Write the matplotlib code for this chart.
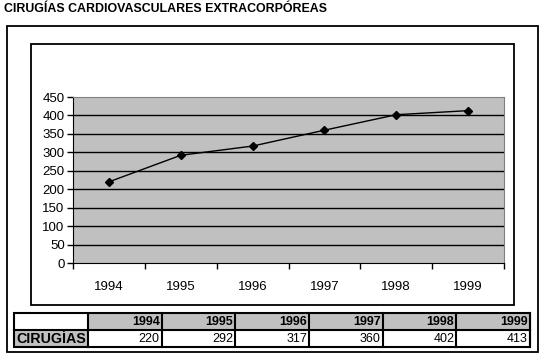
import numpy as np
import matplotlib.pyplot as plt
from matplotlib.patches import Rectangle

plt.rcParams['font.family'] = ['Liberation Sans', 'DejaVu Sans']

title = 'CIRUGÍAS CARDIOVASCULARES EXTRACORPÓREAS'
years = ['1994', '1995', '1996', '1997', '1998', '1999']
cirugias = [220, 292, 317, 360, 402, 413]
row_label = 'CIRUGÍAS'
yticks = [0, 50, 100, 150, 200, 250, 300, 350, 400, 450]

W, H = 551, 363
fig = plt.figure(figsize=(W / 100, H / 100), dpi=100)

# overlay in pixel coords for boxes and the table
over = fig.add_axes([0, 0, 1, 1])
over.set_xlim(0, W)
over.set_ylim(H, 0)
over.axis('off')

def px_rect(x0, y0, x1, y1, **kw):
    over.add_patch(Rectangle((x0, y0), x1 - x0, y1 - y0, **kw))

over.text(4, 9, title, fontsize=8.9, fontweight='bold', va='center', ha='left')
px_rect(7, 26, 538, 352, fill=False, ec='black', lw=1.3)
px_rect(31, 44, 514, 305, fill=False, ec='black', lw=1.3)

# chart
ax = fig.add_axes([73 / W, 1 - 263 / H, 431 / W, 166 / H])
x = np.arange(len(years))
ax.set_facecolor('#c0c0c0')
for v in yticks[1:-1]:
    ax.axhline(v, color='black', lw=1, zorder=1)
ax.plot(x, cirugias, color='black', lw=1, marker='D', ms=4.5, zorder=3)
ax.set_xlim(-0.5, len(years) - 0.5)
ax.set_ylim(0, 450)
ax.set_yticks(yticks)
ax.set_xticks(x)
ax.set_xticklabels(years)
ax.set_xticks(np.arange(-0.5, len(years)), minor=True)
ax.tick_params(axis='x', which='major', length=0, pad=13, labelsize=9.5)
ax.tick_params(axis='x', which='minor', length=4, width=1, direction='out')
ax.tick_params(axis='y', length=4, width=1, direction='out', pad=2, labelsize=9.5)
for s in ['top', 'right']:
    ax.spines[s].set_color('#808080')
for s in ['left', 'bottom']:
    ax.spines[s].set_color('black')

# table
tx0, tx1 = 14, 530
lab_w = 88
ty0, tmid, ty1 = 313, 330, 347
col_w = (tx1 - lab_w) / len(years)
px_rect(lab_w, ty0, tx1, tmid, fc='#c0c0c0', ec='none')
px_rect(tx0, tmid, lab_w, ty1, fc='#c0c0c0', ec='none')
for i, (yr, val) in enumerate(zip(years, cirugias)):
    cx1 = lab_w + (i + 1) * col_w
    over.text(cx1 - 2, (ty0 + tmid) / 2 + 0.5, yr, ha='right', va='center',
              fontsize=9, fontweight='bold')
    over.text(cx1 - 2, (tmid + ty1) / 2 + 0.5, str(val), ha='right', va='center',
              fontsize=9)
    over.plot([cx1, cx1], [ty0, ty1], color='black', lw=1.5)
over.plot([lab_w, lab_w], [ty0, ty1], color='black', lw=1.5)
over.plot([tx0, tx1], [tmid, tmid], color='black', lw=1.5)
px_rect(tx0, ty0, tx1, ty1, fill=False, ec='black', lw=1.5)
over.text(tx0 + 2, (tmid + ty1) / 2 + 0.5, row_label, ha='left', va='center',
          fontsize=10.3, fontweight='bold')

fig.savefig('out.png', dpi=100)
